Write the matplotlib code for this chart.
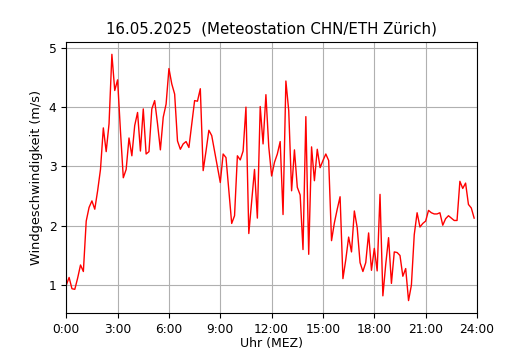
import numpy as np
import matplotlib
matplotlib.use("Agg")
import matplotlib.pyplot as plt

# Windgeschwindigkeit in m/s, alle 10 Minuten ab 0:00
wind = [
    1.00, 1.13, 0.94, 0.93, 1.12, 1.34, 1.23, 2.08, 2.31, 2.42, 2.28, 2.59,
    2.95, 3.65, 3.25, 3.72, 4.89, 4.28, 4.46, 3.60, 2.81, 2.95, 3.48, 3.18,
    3.69, 3.91, 3.26, 3.97, 3.21, 3.25, 3.97, 4.11, 3.72, 3.28, 3.83, 4.05,
    4.65, 4.39, 4.22, 3.43, 3.29, 3.38, 3.42, 3.32, 3.72, 4.11, 4.10, 4.31,
    2.93, 3.26, 3.61, 3.52, 3.26, 3.01, 2.73, 3.21, 3.15, 2.59, 2.04, 2.17,
    3.18, 3.11, 3.26, 4.00, 1.87, 2.42, 2.95, 2.13, 4.01, 3.38, 4.21, 3.33,
    2.84, 3.07, 3.21, 3.42, 2.19, 4.44, 3.94, 2.59, 3.28, 2.65, 2.52, 1.60,
    3.84, 1.52, 3.33, 2.76, 3.29, 2.98, 3.10, 3.21, 3.10, 1.75, 2.05, 2.28,
    2.49, 1.11, 1.43, 1.81, 1.56, 2.25, 1.97, 1.38, 1.23, 1.38, 1.88, 1.25,
    1.62, 1.24, 2.53, 0.82, 1.35, 1.80, 1.03, 1.56, 1.55, 1.50, 1.15, 1.28,
    0.74, 1.00, 1.85, 2.22, 1.98, 2.04, 2.08, 2.26, 2.22, 2.20, 2.20, 2.22,
    2.01, 2.12, 2.17, 2.13, 2.09, 2.09, 2.75, 2.63, 2.72, 2.36, 2.30, 2.13,
]
hours = np.arange(len(wind)) / 6.0

tick_hours = list(range(0, 25, 3))
tick_labels = [f"{h}:00" for h in tick_hours]

fig, ax = plt.subplots(figsize=(5.3, 3.5), dpi=100)
fig.subplots_adjust(left=0.125, right=0.9, bottom=0.106, top=0.88)
ax.plot(hours, wind, color="red", linewidth=1)
ax.set_xlim(0, 24)
ax.set_xticks(tick_hours)
ax.set_xticklabels(tick_labels)
ax.tick_params(labelsize=8.8)
ax.grid(True, color="#b0b0b0")
ax.set_axisbelow(True)
ax.set_title("16.05.2025  (Meteostation CHN/ETH Zürich)", fontsize=10.8)
ax.set_xlabel("Uhr (MEZ)", fontsize=9, labelpad=1)
ax.set_ylabel("Windgeschwindigkeit (m/s)", fontsize=9.3)

fig.savefig("out.png", dpi=100)
